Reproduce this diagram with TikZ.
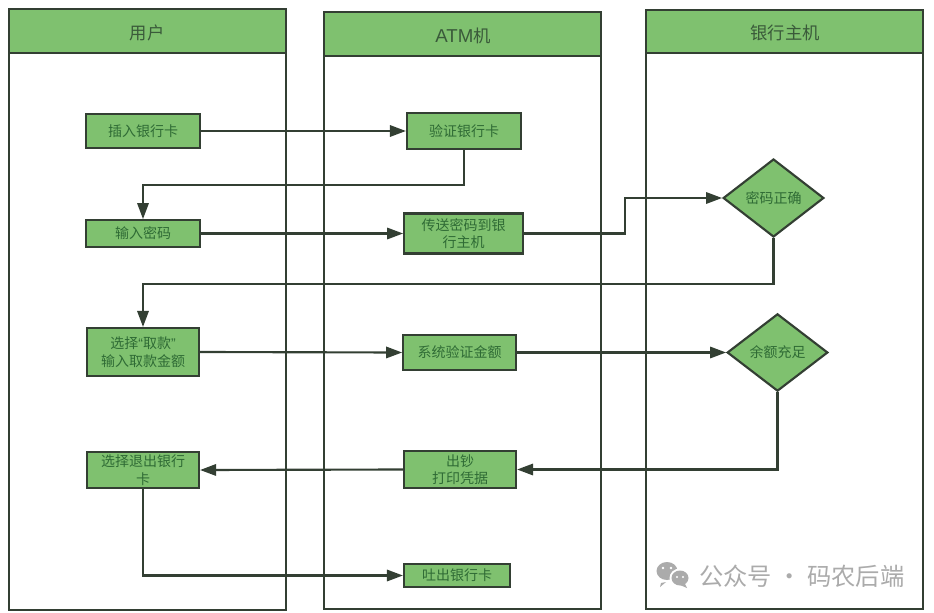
\documentclass[tikz,border=0pt]{standalone}
\usepackage{fontspec}
\setmainfont{Noto Sans CJK SC}
\newfontfamily\latinhead{Liberation Sans}
\usetikzlibrary{arrows.meta,shapes.geometric,calc}
\definecolor{lanefill}{HTML}{7FC16F}
\definecolor{edgecol}{HTML}{333F33}
\definecolor{txtcol}{HTML}{2F6B35}
\definecolor{headtxt}{HTML}{3A5A3A}
\definecolor{markgrey}{HTML}{ABABAB}
\tikzset{
  x=0.75pt,y=-0.75pt,
  lane/.style={draw=edgecol,line width=1.6pt,fill=white},
  lanehead/.style={draw=edgecol,line width=1.6pt,fill=lanefill},
  headlabel/.style={text=headtxt,font=\fontsize{13}{15}\selectfont,inner sep=0pt},
  stepbox/.style={draw=edgecol,line width=1.6pt,fill=lanefill,text=txtcol,align=center,
    font=\fontsize{10.5}{13.2}\selectfont,inner sep=0pt,anchor=center},
  choice/.style={shape=diamond,draw=edgecol,line width=1.6pt,fill=lanefill,text=txtcol,
    font=\fontsize{10.5}{13}\selectfont,inner sep=0pt,aspect=1.3},
  flow/.style={draw=edgecol,line width=1.6pt,-{Triangle[length=12pt,width=8.5pt]},shorten >=0pt},
}
\begin{document}
\begin{tikzpicture}
\useasboundingbox (0,0) rectangle (934,613);
% lanes
\draw[lane] (9,9) rectangle (286,610);
\draw[lanehead] (9,9) rectangle (286,53);
\node[headlabel] (h1) at (147,33) {用户};
\draw[lane] (324,12) rectangle (601,609);
\draw[lanehead] (324,12) rectangle (601,56);
\node[headlabel] (h2) at (463,36) {{\latinhead\fontsize{14}{15}\selectfont ATM}机};
\draw[lane] (646,10) rectangle (923,609);
\draw[lanehead] (646,10) rectangle (923,53);
\node[headlabel] (h3) at (785,33) {银行主机};
% steps
\node[stepbox,minimum width=85.5pt,minimum height=25.5pt] (ins) at (143,131) {插入银行卡};
\node[stepbox,minimum width=85.5pt,minimum height=27pt] (ver) at (464,131) {验证银行卡};
\node[stepbox,minimum width=85.5pt,minimum height=20pt] (pw) at (143,233.5) {输入密码};
\node[stepbox,minimum width=89pt,minimum height=30pt] (send) at (463.5,233.5) {传送密码到银\\行主机};
\node[stepbox,minimum width=84pt,minimum height=36pt] (sel) at (143,352) {选择{\latinhead“}取款{\latinhead”}\\输入取款金额};
\node[stepbox,minimum width=84.5pt,minimum height=26.5pt] (sys) at (459.5,352.5) {系统验证金额};
\node[stepbox,minimum width=84pt,minimum height=27pt] (quit) at (143,470) {选择退出银行\\卡};
\node[stepbox,minimum width=84pt,minimum height=28pt] (cash) at (460,469.5) {出钞\\打印凭据};
\node[stepbox,minimum width=79.5pt,minimum height=17.5pt] (eject) at (457,575.5) {吐出银行卡};
\node[choice,minimum width=75.5pt,minimum height=58.5pt] (d1) at (773.5,198) {密码正确};
\node[choice,minimum width=75.5pt,minimum height=58pt] (d2) at (777.5,352.5) {余额充足};
% connectors
\draw[flow] (ins.east) -- (ver.west);
\draw[flow] (ver.south) -- ++(0,35) -| (pw.north);
\draw[flow] (pw.east) -- (send.west);
\draw[flow] (send.east) -- ++(101,0) |- (d1.west);
\draw[flow] (d1.south) -- ++(0,46) -| (sel.north);
\draw[flow] (sel.east) -- (sys.west);
\draw[flow] (sys.east) -- (d2.west);
\draw[flow] (d2.south) |- (cash.east);
\draw[flow] (cash.west) -- (quit.east);
\draw[flow] (quit.south) |- (eject.west);
% watermark
\fill[markgrey] (667,571) ellipse (10.5 and 9);
\fill[markgrey] (661,583) -- (660,587) -- (666,582) -- cycle;
\fill[white] (680,578) ellipse (10.5 and 9.5);
\fill[markgrey] (680,578) ellipse (8.5 and 7.5);
\fill[markgrey] (685,584) -- (687,588) -- (680,585) -- cycle;
\fill[white] (663,568) circle (1.4) (671,568) circle (1.4) (677,577) circle (1.2) (683,577) circle (1.2);
\node[text=markgrey,font=\fontsize{18.2}{20}\selectfont,inner sep=0pt,anchor=west] (mark) at (699,576) {公众号 · 码农后端};
\end{tikzpicture}
\end{document}
